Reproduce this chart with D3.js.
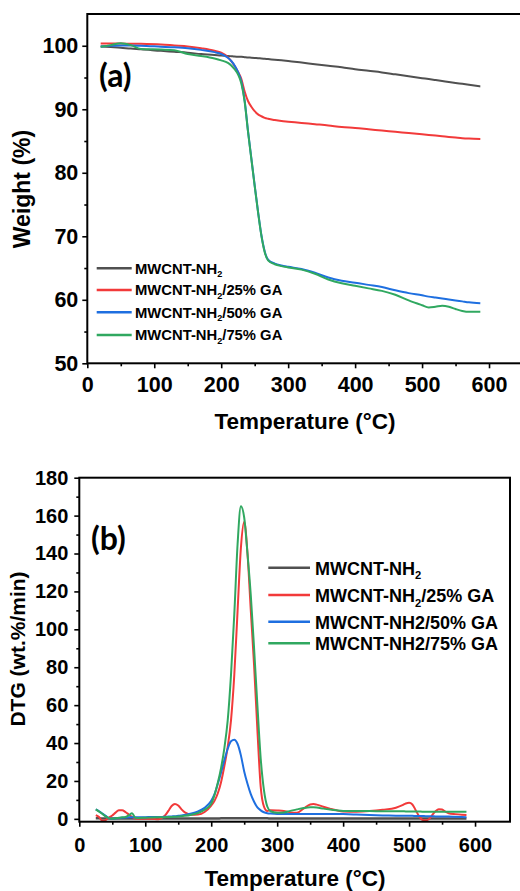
<!DOCTYPE html>
<html>
<head>
<meta charset="utf-8">
<script src="https://cdn.jsdelivr.net/npm/d3@7"></script>
<style>
  html, body { margin: 0; padding: 0; background: #fff; }
  svg { display: block; }
</style>
</head>
<body>
<svg id="chart" width="520" height="891"></svg>
<script>
// ---- TGA weight curves (%) ----
const tgaTemp = [20,35,50,65,80,110,130,150,170,190,200,210,215,220,225,230,235,240,245,250,255,260,265,270,280,290,300,320,340,360,380,400,420,440,460,480,500,510,520,530,540,550,560,570,587];
const tgaNH2  = [99.9,99.8,99.7,99.55,99.45,99.2,99.05,98.9,98.7,98.55,98.45,98.4,98.35,98.3,98.28,98.25,98.2,98.15,98.12,98.08,98.03,98.0,97.95,97.9,97.8,97.7,97.6,97.35,97.1,96.85,96.6,96.3,96.05,95.8,95.5,95.2,94.9,94.75,94.6,94.45,94.3,94.15,94.0,93.85,93.6];
const tgaGA25 = [100.35,100.35,100.35,100.32,100.3,100.2,100.05,99.9,99.6,99.2,98.9,98.2,97.6,96.8,95.9,94.8,92.8,91.3,90.4,89.7,89.2,88.9,88.65,88.5,88.3,88.15,88.05,87.85,87.65,87.45,87.2,87.05,86.85,86.65,86.45,86.25,86.05,85.95,85.85,85.75,85.65,85.55,85.45,85.38,85.3];
const tgaGA50 = [99.9,100.0,100.05,100.05,100.0,99.85,99.75,99.6,99.35,99.0,98.7,98.1,97.6,96.9,95.9,94.4,91.4,86.6,82.3,78.0,73.9,70.2,67.6,66.3,65.7,65.4,65.2,64.85,64.25,63.5,63.0,62.7,62.35,62.0,61.5,61.05,60.7,60.5,60.35,60.2,60.05,59.9,59.75,59.6,59.45];
const tgaGA75 = [99.85,100.1,100.4,100.1,99.5,99.4,99.3,98.7,98.4,98.0,97.7,97.3,96.9,96.3,95.5,94.1,91.2,86.5,82.2,77.9,73.8,70.1,67.5,66.2,65.6,65.3,65.1,64.75,64.1,63.2,62.6,62.2,61.8,61.4,60.8,59.9,59.15,58.8,58.9,59.05,58.9,58.55,58.25,58.1,58.1];

// ---- DTG curves (wt.%/min) ----
const dtgTemp = [25,30,35,40,45,50,55,60,65,70,75,80,85,90,100,110,120,130,135,140,145,150,155,160,170,180,190,200,205,210,215,220,225,230,235,240,245,250,255,260,265,270,275,280,285,290,300,310,320,330,340,350,355,360,370,380,390,400,420,440,460,480,490,495,500,505,510,515,520,525,530,535,540,545,550,555,560,570,580,587];
const dtgNH2  = [0.3,0.3,0.2,0.2,0.2,0.2,0.2,0.2,0.2,0.2,0.2,0.2,0.2,0.2,0.2,0.2,0.2,0.2,0.2,0.2,0.2,0.2,0.2,0.2,0.2,0.2,0.2,0.2,0.2,0.2,0.3,0.3,0.3,0.3,0.3,0.3,0.3,0.3,0.3,0.3,0.3,0.3,0.3,0.3,0.3,0.2,0.2,0.2,0.2,0.2,0.2,0.2,0.2,0.2,0.2,0.2,0.2,0.2,0.2,0.2,0.2,0.2,0.2,0.2,0.2,0.2,0.2,0.2,0.2,0.2,0.2,0.2,0.2,0.2,0.2,0.2,0.2,0.2,0.2,0.2];
const dtgGA25 = [2.0,1.0,-1.0,-0.6,0.7,1.8,3.3,4.5,4.6,3.6,2.3,1.0,0.2,0.1,0.1,0.0,-0.2,1.8,4.2,6.8,7.9,7.0,5.0,3.4,2.2,2.3,3.6,7.0,9.5,13.5,19.5,28,38,52,76,110,143,156.8,140,110,81,47,17,6.5,4.2,4.5,4.4,4.2,3.4,3.2,5.4,7.6,7.8,7.5,6.4,5.4,4.5,3.9,3.8,4.1,4.8,5.9,7.2,8.1,8.5,7.6,4.6,1.5,-0.5,-0.8,-0.2,2.0,4.0,5.1,4.9,3.8,3.0,2.5,2.2,2.1];
const dtgGA50 = [5.0,4.0,2.8,1.6,0.4,0.1,0.3,0.5,0.6,0.7,0.8,0.8,0.8,0.9,0.9,1.0,1.0,1.1,1.2,1.3,1.4,1.6,1.8,2.1,2.8,3.9,5.8,9.5,13,18.5,24.5,31,37,41,41.8,39.5,33.5,25,18.5,13,9,6,4.5,3.5,3.0,2.8,2.6,2.6,2.6,2.6,2.6,2.6,2.6,2.6,2.5,2.5,2.5,2.5,2.3,2.0,1.8,1.7,1.6,1.6,1.6,1.6,1.5,1.5,1.5,1.4,1.4,1.4,1.3,1.3,1.3,1.2,1.2,1.1,1.0,0.9];
const dtgGA75 = [5.0,3.8,2.6,1.3,0.4,0.0,0.3,0.6,0.8,1.0,1.9,2.9,0.6,0.5,0.6,0.7,0.8,0.9,1.0,1.0,1.1,1.2,1.4,1.6,2.2,3.1,4.8,8.0,12.5,19,27,37.5,52,76,108,145,165,159,140,118,90,60,32,15,6.5,4.0,3.2,3.4,4.2,5.0,5.7,6.1,6.1,6.0,5.4,4.9,4.5,4.2,4.1,4.1,4.0,4.0,4.0,3.9,3.9,3.9,3.9,3.9,3.8,3.8,3.8,3.8,3.8,3.8,3.8,3.8,3.8,3.8,3.8,3.8];

// ---- ticks and labels ----
const tempTicks = [0,100,200,300,400,500,600];
const tempMinor = [50,150,250,350,450,550];
const weightTicks = [50,60,70,80,90,100];
const weightMinor = [55,65,75,85,95];
const dtgTicks = [0,20,40,60,80,100,120,140,160,180];
const dtgMinor = [10,30,50,70,90,110,130,150,170];
const legendTGA = ["MWCNT-NH_2","MWCNT-NH_2/25% GA","MWCNT-NH_2/50% GA","MWCNT-NH_2/75% GA"];
const legendDTG = ["MWCNT-NH_2","MWCNT-NH_2/25% GA","MWCNT-NH2/50% GA","MWCNT-NH2/75% GA"];
const colors = ["#505050","#f23a3a","#1e6fe0","#30a860"];

const svg = d3.select("#chart");
const SANS = "'Liberation Sans', Arial, sans-serif";

function styleAxis(g, size) {
  g.select(".domain").remove();
  g.selectAll(".tick line").attr("stroke", "#000").attr("stroke-width", 1.6);
  g.selectAll(".tick text")
    .attr("fill", "#000")
    .attr("font-family", SANS)
    .attr("font-weight", "bold")
    .attr("font-size", size);
}

function panel(cfg) {
  const g = svg.append("g");
  const x = cfg.x, y = cfg.y;
  const [x0, x1] = x.range();
  const [yb, yt] = y.range();

  // series
  const line = d3.line()
    .x(d => x(d[0]))
    .y(d => y(d[1]))
    .curve(d3.curveMonotoneX);
  cfg.series.forEach((vals, i) => {
    g.append("path")
      .datum(cfg.temp.map((t, k) => [t, vals[k]]))
      .attr("fill", "none")
      .attr("stroke", colors[i])
      .attr("stroke-width", cfg.lineWidth[i])
      .attr("stroke-linejoin", "round")
      .attr("d", line);
  });

  // axes
  const gx = g.append("g").attr("transform", `translate(0,${yb})`)
    .call(d3.axisBottom(x).tickValues(tempTicks).tickSize(5).tickPadding(cfg.xPad).tickSizeOuter(0));
  styleAxis(gx, cfg.tickFont);
  const gxm = g.append("g").attr("transform", `translate(0,${yb})`)
    .call(d3.axisBottom(x).tickValues(tempMinor).tickSize(3).tickFormat(""));
  styleAxis(gxm, cfg.tickFont);

  const gy = g.append("g").attr("transform", `translate(${x0},0)`)
    .call(d3.axisLeft(y).tickValues(cfg.yTicks).tickSize(5).tickPadding(cfg.yPad).tickSizeOuter(0));
  styleAxis(gy, cfg.tickFont);
  const gym = g.append("g").attr("transform", `translate(${x0},0)`)
    .call(d3.axisLeft(y).tickValues(cfg.yMinor).tickSize(3).tickFormat(""));
  styleAxis(gym, cfg.tickFont);

  // frame
  g.append("rect")
    .attr("x", x0).attr("y", yt)
    .attr("width", x1 - x0).attr("height", yb - yt)
    .attr("fill", "none").attr("stroke", "#000").attr("stroke-width", 2);

  // axis titles
  g.append("text")
    .attr("x", cfg.xTitle[0]).attr("y", cfg.xTitle[1])
    .attr("text-anchor", "middle")
    .attr("font-family", SANS).attr("font-weight", "bold")
    .attr("font-size", cfg.titleFont)
    .text("Temperature (°C)");
  g.append("text")
    .attr("transform", `translate(${cfg.yTitle[0]},${cfg.yTitle[1]}) rotate(-90)`)
    .attr("text-anchor", "middle")
    .attr("font-family", SANS).attr("font-weight", "bold")
    .attr("font-size", cfg.yTitleFont)
    .text(cfg.yLabel);

  // panel letter
  g.append("text")
    .attr("x", cfg.letterPos[0]).attr("y", cfg.letterPos[1])
    .attr("font-family", "Lato, 'Open Sans', sans-serif").attr("font-weight", "bold")
    .attr("font-size", 32)
    .text(cfg.letter);

  // legend
  const lg = cfg.legend;
  cfg.legendLabels.forEach((lab, i) => {
    const ly = lg.rows[i];
    g.append("line")
      .attr("x1", lg.x1).attr("x2", lg.x2)
      .attr("y1", ly).attr("y2", ly)
      .attr("stroke", colors[i]).attr("stroke-width", 2.5);
    const t = g.append("text")
      .attr("x", lg.tx).attr("y", ly + lg.base)
      .attr("font-family", SANS).attr("font-weight", "bold")
      .attr("font-size", lg.font);
    const parts = lab.split("_");
    t.append("tspan").text(parts[0]);
    if (parts.length > 1) {
      const sub = parts[1].charAt(0);
      const rest = parts[1].slice(1);
      t.append("tspan")
        .attr("font-size", lg.font * 0.62)
        .attr("dy", lg.font * 0.25)
        .text(sub);
      if (rest) t.append("tspan").attr("dy", -lg.font * 0.25).text(rest);
    }
  });
}

// (a) TGA
panel({
  x: d3.scaleLinear().domain([0, 650]).range([87.3, 522.5]),
  y: d3.scaleLinear().domain([50, 105]).range([363.3, 14]),
  temp: tgaTemp,
  series: [tgaNH2, tgaGA25, tgaGA50, tgaGA75],
  lineWidth: [2, 2, 2, 2],
  yTicks: weightTicks, yMinor: weightMinor,
  tickFont: 21.5, xPad: 8, yPad: 4,
  titleFont: 22.5, yTitleFont: 23,
  xTitle: [305, 428.5], yTitle: [30, 189],
  yLabel: "Weight (%)",
  letter: "(a)", letterPos: [99, 87],
  legendLabels: legendTGA,
  legend: { x1: 96.7, x2: 131.7, tx: 135, rows: [268.3, 290, 312.3, 335], base: 5.2, font: 14.8 }
});

// (b) DTG
panel({
  x: d3.scaleLinear().domain([0, 653]).range([79.3, 510]),
  y: d3.scaleLinear().domain([-1.5, 180]).range([821.7, 477.7]),
  temp: dtgTemp,
  series: [dtgNH2, dtgGA25, dtgGA50, dtgGA75],
  lineWidth: [2.5, 2, 2, 2],
  yTicks: dtgTicks, yMinor: dtgMinor,
  tickFont: 20, xPad: 11, yPad: 6,
  titleFont: 22.5, yTitleFont: 21,
  xTitle: [295, 886], yTitle: [25, 649],
  yLabel: "DTG (wt.%/min)",
  letter: "(b)", letterPos: [91, 550],
  legendLabels: legendDTG,
  legend: { x1: 268.3, x2: 310, tx: 315, rows: [567.7, 595, 621.7, 643.3], base: 7, font: 18 }
});
</script>
</body>
</html>
